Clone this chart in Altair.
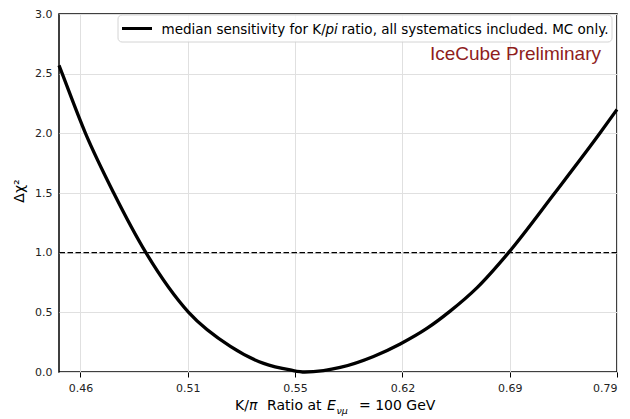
import altair as alt
import pandas as pd

# ---- data ----
ratio_pos = [-0.2, -0.17, 0.047, 0.31, 0.61, 1.008, 1.397, 1.707, 1.955, 2.09,
             2.265, 2.421, 2.731, 2.98, 3.228, 3.445, 3.694, 3.98, 4.42, 4.84, 5.0]
delta_chi2 = [2.57, 2.5, 2.0, 1.5, 1.0, 0.5, 0.215, 0.072, 0.017, 0.0,
              0.012, 0.038, 0.13, 0.235, 0.365, 0.51, 0.705, 0.99, 1.5, 2.0, 2.2]
tick_pos = [0, 1, 2, 3, 4, 5]
tick_labels = ["0.46", "0.51", "0.55", "0.62", "0.69", "0.79"]
y_ticks = [0, 0.5, 1.0, 1.5, 2.0, 2.5, 3.0]
threshold = [1.0]
x_domain = [-0.2, 5.0]
y_domain = [0, 3]

legend_parts = ["median sensitivity for K/", "pi", "ratio, all systematics included. MC only."]
watermark = "IceCube Preliminary"
xtitle_parts = ["K/", "π", "Ratio at", "E", "νμ", "= 100 GeV"]
ytitle = "Δχ²"

curve_df = pd.DataFrame({"u": ratio_pos, "d": delta_chi2})
thr_df = pd.DataFrame({"t": threshold})
one = pd.DataFrame({"a": [0]})

FONT = "DejaVu Sans"
label_expr = "[" + ",".join(f"'{t}'" for t in tick_labels) + "][round(datum.value)]"

curve = alt.Chart(curve_df).mark_line(
    color="black", strokeWidth=3.3, interpolate="monotone"
).encode(
    x=alt.X("u:Q", scale=alt.Scale(domain=x_domain, nice=False, zero=False),
            axis=alt.Axis(values=tick_pos, labelExpr=label_expr, title=None,
                          tickSize=5, tickColor="black", tickWidth=1,
                          labelFont=FONT, labelFontSize=11, labelColor="#222",
                          labelPadding=5, grid=True, gridColor="#e0e0e0",
                          domain=False)),
    y=alt.Y("d:Q", scale=alt.Scale(domain=y_domain, nice=False),
            axis=alt.Axis(values=y_ticks, format=".1f", title=None,
                          ticks=False, tickSize=0, labelPadding=7,
                          labelFont=FONT, labelFontSize=11, labelColor="#222",
                          grid=True, gridColor="#e0e0e0", domain=False)),
)

thr = alt.Chart(thr_df).mark_rule(
    color="black", strokeWidth=1.3, strokeDash=[5.5, 2.5]
).encode(y="t:Q")

legend_box = alt.Chart(one).mark_rect(
    fill="white", stroke="#d0d0d0", strokeWidth=1, cornerRadius=4, opacity=0.9
).encode(x=alt.value(59), x2=alt.value(553), y=alt.value(1), y2=alt.value(28))

legend_line = alt.Chart(one).mark_rule(color="black", strokeWidth=3).encode(
    x=alt.value(63), x2=alt.value(93), y=alt.value(14.5))


def txt(s, x, y, size, style="normal", color="black", align="left", font=FONT, angle=0,
        baseline="alphabetic"):
    kw = dict(text=s, font=font, fontSize=size, fontStyle=style, color=color,
              align=align, baseline=baseline)
    if angle:
        kw["angle"] = angle
    return alt.Chart(one).mark_text(**kw).encode(x=alt.value(x), y=alt.value(y))


layers = [curve, thr, legend_box, legend_line,
          txt(legend_parts[0], 102.5, 19.5, 13.5),
          txt(legend_parts[1], 266.5, 19.5, 13.5, style="italic"),
          txt(legend_parts[2], 282.5, 19.5, 13.5),
          txt(watermark, 542, 45.5, 19, color="#8f1d1d", align="right",
              font="Liberation Sans"),
          txt(xtitle_parts[0], 176, 396, 14),
          txt(xtitle_parts[1], 190, 396, 14, style="italic"),
          txt(xtitle_parts[2], 208, 396, 14),
          txt(xtitle_parts[3], 268, 396, 14, style="italic"),
          txt(xtitle_parts[4], 277.5, 400, 9.5, style="italic"),
          txt(xtitle_parts[5], 300, 396, 14),
          txt(ytitle, -39, 177, 14, angle=270, align="center", baseline="middle"),
          ]

chart = alt.layer(*layers).properties(
    width=558, height=358,
    padding={"left": 51, "top": 6, "right": 5, "bottom": 47},
    autosize=alt.AutoSizeParams(type="none"),
).configure_view(stroke="black", strokeWidth=1.5)

chart.save("out.html", embed_options={"renderer": "svg", "actions": False})
